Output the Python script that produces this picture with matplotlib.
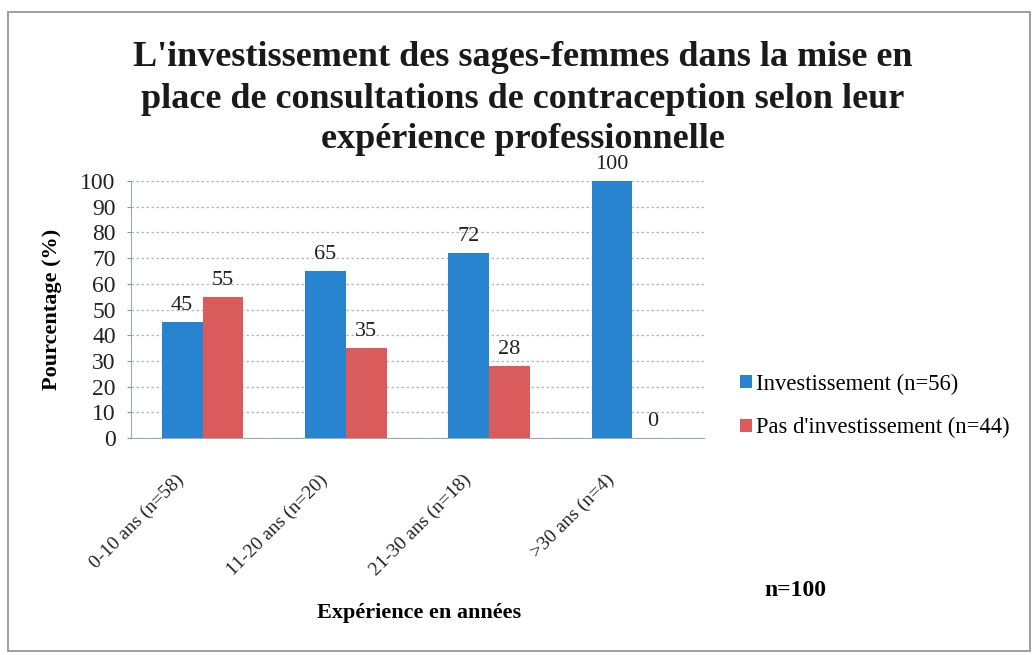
import matplotlib
matplotlib.use("Agg")
import matplotlib.pyplot as plt
import matplotlib.transforms as mtransforms
from matplotlib.patches import Rectangle
import numpy as np

categories = ["0-10 ans (n=58)", "11-20 ans (n=20)", "21-30 ans (n=18)", ">30 ans (n=4)"]
investissement = [45, 65, 72, 100]
pas_investissement = [55, 35, 28, 0]
series_labels = ["Investissement (n=56)", "Pas d'investissement (n=44)"]
yticks = list(range(0, 101, 10))
title = ("L'investissement des sages-femmes dans la mise en\n"
         "place de consultations de contraception selon leur\n"
         "expérience professionnelle")

plt.rcParams['font.family'] = ['Liberation Serif', 'DejaVu Serif']

W, H = 1035, 655
fig = plt.figure(figsize=(W / 100, H / 100), dpi=100)

def px(x0, y0, x1, y1):
    return [x0 / W, 1 - y1 / H, (x1 - x0) / W, (y1 - y0) / H]

# outer frame
fig.patches.append(Rectangle((8 / W, 1 - 651 / H), (1030 - 8) / W, (651 - 12) / H,
                             transform=fig.transFigure, fill=False,
                             edgecolor="#8a8f96", linewidth=1.2))

ax = fig.add_axes(px(131, 181, 704, 438))

blue = "#2884cf"
red = "#d95b5b"
x = np.arange(len(categories))
w = 0.285
b1 = ax.bar(x - w / 2, investissement, width=w, color=blue, label=series_labels[0], zorder=3)
b2 = ax.bar(x + w / 2, pas_investissement, width=w, color=red, label=series_labels[1], zorder=3)

for bars, vals in ((b1, investissement), (b2, pas_investissement)):
    for rect, v in zip(bars, vals):
        ax.annotate(f"{v}", (rect.get_x() + rect.get_width() / 2, rect.get_height()),
                    xytext=(0, 5), textcoords="offset points", ha="center", va="bottom",
                    fontsize=16, color="#222222")

ax.set_xlim(-0.5, len(categories) - 0.5)
ax.set_ylim(0, 100)
ax.set_yticks(yticks)
ax.tick_params(axis="y", labelsize=17, length=3, color="#8a8f96", pad=8, labelcolor="#222222")
ax.yaxis.grid(True, color="#a8b6c6", linestyle=(0, (2, 2)), linewidth=0.9, zorder=0)
ax.set_axisbelow(True)
for s in ("top", "right"):
    ax.spines[s].set_visible(False)
ax.spines["left"].set_color("#a0a8b0")
ax.spines["bottom"].set_color("#a0a8b0")

ax.set_xticks(x)
ax.set_xticklabels(categories, rotation=45, ha="right", rotation_mode="anchor",
                   fontsize=14, color="#222222")
ax.tick_params(axis="x", length=0, pad=24)
offset = mtransforms.ScaledTranslation(-27 / 100, 0, fig.dpi_scale_trans)
for lab in ax.get_xticklabels():
    lab.set_transform(lab.get_transform() + offset)

ax.set_ylabel("Pourcentage (%)", fontsize=16, fontweight="bold")
ax.yaxis.set_label_coords(-0.12, 0.5)

fig.text(419 / W, 1 - 613 / H, "Expérience en années", fontsize=16, fontweight="bold",
         ha="center", va="center")

fig.text(523 / W, 1 - 99 / H, title, fontsize=26, fontweight="bold",
         ha="center", va="center", linespacing=1.32, color="#1a1a1a")

leg = fig.legend(handles=[b1, b2], labels=series_labels, loc="center left",
                 bbox_to_anchor=(720 / W, 1 - 406 / H), frameon=False, fontsize=16.3,
                 handlelength=0.5, handleheight=0.5, handletextpad=0.2, labelspacing=1.0)

fig.text(795 / W, 1 - 590 / H, "n=100", fontsize=17, fontweight="bold",
         ha="center", va="center")

fig.savefig("out.png", dpi=100)
